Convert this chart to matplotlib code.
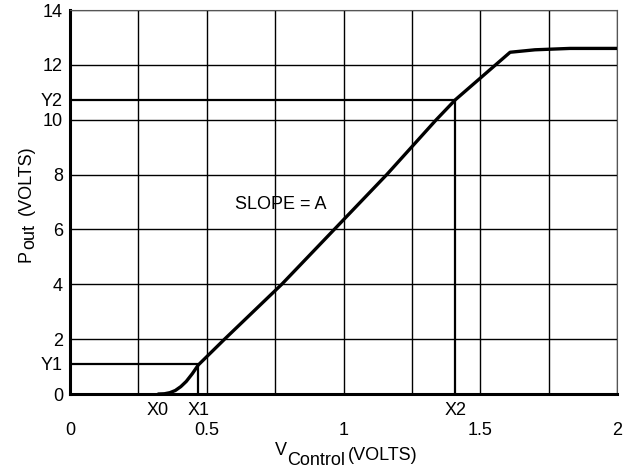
import numpy as np
import matplotlib
matplotlib.use('Agg')
from matplotlib import pyplot as plt
from matplotlib.transforms import IdentityTransform

plt.rcParams['font.family'] = ['Liberation Sans', 'DejaVu Sans']

# transfer curve
v_control = [0.32, 0.345, 0.365, 0.385, 0.405, 0.425, 0.447, 0.469, 0.565,
             0.774, 1.158, 1.339, 1.409, 1.609, 1.70, 1.828, 2.0]
p_out = [0.0, 0.01, 0.05, 0.13, 0.27, 0.46, 0.74, 1.06, 2.0,
         4.0, 8.0, 10.0, 10.73, 12.46, 12.55, 12.60, 12.60]

x0, x1, x2 = 0.32, 0.469, 1.409
y1, y2 = 1.10, 10.73

x_grid = np.arange(0, 2.01, 0.25)
x_labels = ['0', '', '0.5', '', '1', '', '1.5', '', '2']
y_grid = np.arange(0, 14.1, 2)

fs = 13
fig = plt.figure(figsize=(6.29, 4.68), dpi=100)
ax = fig.add_axes([0.1113, 0.158, 0.8697, 0.8206])

ax.plot(v_control, p_out, color='black', lw=2.4, solid_capstyle='butt',
        solid_joinstyle='round', zorder=4)
# hilfslinien fuer Y1/X1 und Y2/X2
ax.plot([0, x1, x1], [y1, y1, 0], color='black', lw=1.6, zorder=3)
ax.plot([0, x2, x2], [y2, y2, 0], color='black', lw=1.6, zorder=3)

ax.set_xlim(0, 2)
ax.set_ylim(0, 14)
ax.set_xticks(x_grid)
ax.set_xticklabels(x_labels)
ax.set_xticks([x0, x1, x2], minor=True)
ax.set_xticklabels(['X0', 'X1', 'X2'], minor=True)
ax.set_yticks(y_grid)
ax.set_yticks([y1, y2], minor=True)
ax.set_yticklabels(['Y1', 'Y2'], minor=True)

ax.grid(True, which='major', color='black', lw=1.0)
ax.tick_params(axis='both', which='both', length=0, labelsize=fs)
ax.tick_params(axis='x', which='major', pad=20)
ax.tick_params(axis='x', which='minor', pad=6)
ax.tick_params(axis='y', which='both', pad=5)

for side in ['left', 'bottom']:
    ax.spines[side].set_linewidth(2.2)
for side in ['top', 'right']:
    ax.spines[side].set_linewidth(0.8)
    ax.spines[side].set_color('#555555')

ax.text(0.603, 6.9, 'SLOPE = A', fontsize=fs, ha='left', va='center')

# achsentitel mit grossem tiefgestellten text, stueckweise gesetzt
renderer = fig.canvas.get_renderer()


def chain(parts, x, y, rotation=0):
    cur = x if rotation == 0 else y
    for s, off, gap in parts:
        if rotation == 0:
            t = fig.text(cur, y + off, s, transform=IdentityTransform(), fontsize=fs,
                         ha='left', va='baseline')
            cur = t.get_window_extent(renderer).x1 + gap
        else:
            t = fig.text(x + off, cur, s, transform=IdentityTransform(), fontsize=fs,
                         ha='left', va='baseline', rotation=90, rotation_mode='anchor')
            cur = t.get_window_extent(renderer).y1 + gap


chain([('V', 0, 0), ('Control', -10, 3), ('(VOLTS)', -5, 0)], 275, 13)
chain([('P', 0, 1), ('out', 3, 9), ('(VOLTS)', 0, 0)], 31, 206, rotation=90)

fig.savefig('out.png', dpi=100)
